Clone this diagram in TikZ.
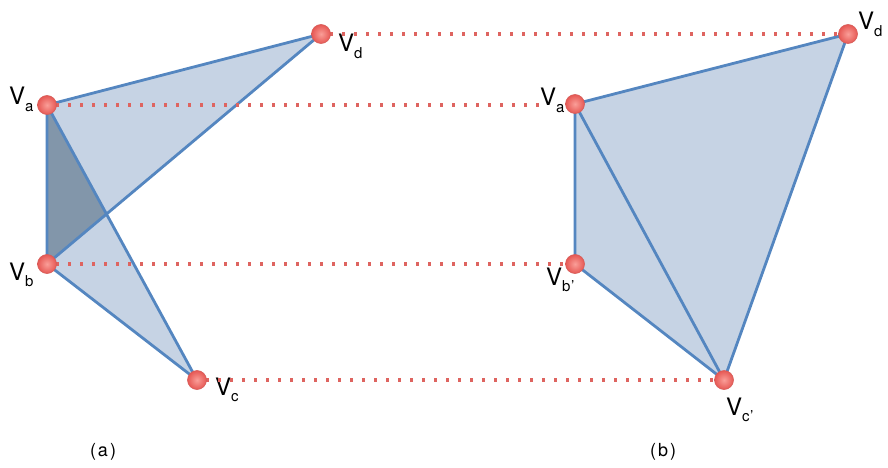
\documentclass[tikz,border=0pt]{standalone}
\usepackage{fontspec}
\setmainfont{TeX Gyre Heros}
\begin{document}
\begin{tikzpicture}[x=1pt,y=-1pt,
  edge/.style={draw={rgb,255:red,84;green,134;blue,192}, line width=2.8pt, line join=round, line cap=round},
  lightfill/.style={fill={rgb,255:red,198;green,211;blue,228}},
  darkfill/.style={fill={rgb,255:red,130;green,150;blue,170}},
  dots/.style={draw={rgb,255:red,222;green,100;blue,96}, line width=3.2pt, dash pattern=on 3.2pt off 8.8pt},
  vtx/.style={circle, minimum size=19pt, inner sep=0pt, draw={rgb,255:red,214;green,92;blue,88}, line width=0.6pt,
    inner color={rgb,255:red,250;green,158;blue,152}, outer color={rgb,255:red,230;green,88;blue,84}},
  vlab/.style={anchor=base west, inner sep=0pt, font=\fontsize{24}{24}\selectfont},
  captext/.style={font=\fontsize{18}{18}\selectfont, inner sep=0pt}
]
\useasboundingbox (0,0) rectangle (888,468);
% vertex positions
\coordinate (pa) at (47,105);
\coordinate (pb) at (47,264);
\coordinate (pc) at (197,380);
\coordinate (pd) at (321,34);
\coordinate (qa) at (575,104);
\coordinate (qb) at (575,264);
\coordinate (qc) at (724,380);
\coordinate (qd) at (848,34);
\coordinate (px) at (intersection of pa--pc and pd--pb);
% left fills
\path[lightfill] (pa) -- (pd) -- (pb) -- cycle;
\path[lightfill] (pa) -- (pc) -- (pb) -- cycle;
\path[darkfill] (pa) -- (px) -- (pb) -- cycle;
% left edges
\draw[edge] (pa) -- (pd) -- (pb) -- cycle;
\draw[edge] (pa) -- (pc) -- (pb);
% right fill and edges
\path[lightfill] (qa) -- (qd) -- (qc) -- (qb) -- cycle;
\draw[edge] (qa) -- (qd) -- (qc) -- (qb) -- cycle;
\draw[edge] (qa) -- (qc);
% labels
\node[vlab] (la) at (9,105) {V\raisebox{-7pt}{\fontsize{15}{15}\selectfont a}};
\node[vlab] (lb) at (9,280) {V\raisebox{-6pt}{\fontsize{15}{15}\selectfont b}};
\node[vlab] (lc) at (215,395) {V\raisebox{-6pt}{\fontsize{15}{15}\selectfont c}};
\node[vlab] (ld) at (338,52) {V\raisebox{-7pt}{\fontsize{15}{15}\selectfont d}};
\node[vlab] (lad) at (540,106) {V\raisebox{-7pt}{\fontsize{15}{15}\selectfont a}};
\node[vlab] (lbd) at (546,285) {V\raisebox{-6pt}{\fontsize{15}{15}\selectfont b\kern0.5pt’}};
\node[vlab] (lcd) at (726,415) {V\raisebox{-6pt}{\fontsize{15}{15}\selectfont c\kern0.5pt’}};
\node[vlab] (ldd) at (858,30) {V\raisebox{-7pt}{\fontsize{15}{15}\selectfont d}};
% dotted correspondences
\node[inner sep=9pt] (va) at (pa) {};
\node[inner sep=9pt] (vb) at (pb) {};
\node[inner sep=9pt] (vc) at (pc) {};
\node[inner sep=9pt] (vd) at (pd) {};
\node[inner sep=9pt] (wb) at (qb) {};
\node[inner sep=9pt] (wc) at (qc) {};
\node[inner sep=9pt] (wd) at (qd) {};
\draw[dots] (vd.east) -- (wd.west);
\draw[dots] (va.east) -- (va.east -| lad.west);
\draw[dots] (vb.east) -- (wb.west);
\draw[dots] (vc.east) -- (wc.west);
% vertices
\node[vtx] (ka) at (pa) {};
\node[vtx] (kb) at (pb) {};
\node[vtx] (kc) at (pc) {};
\node[vtx] (kd) at (pd) {};
\node[vtx] (ma) at (qa) {};
\node[vtx] (mb) at (qb) {};
\node[vtx] (mc) at (qc) {};
\node[vtx] (md) at (qd) {};
% captions
\node[captext] (capa) at (103,452) {(\kern2pt a\kern2pt)};
\node[captext] (capb) at (663,452) {(\kern2pt b\kern2pt)};
\end{tikzpicture}
\end{document}
